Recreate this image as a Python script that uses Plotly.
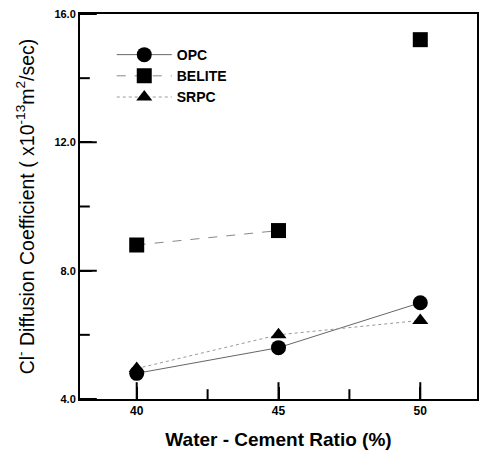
import plotly.graph_objects as go

wc_ratio = [40, 45, 50]
opc = [4.8, 5.6, 7.0]
belite = [8.8, 9.25, 15.2]
srpc = [4.95, 6.0, 6.45]
x_ticks = [40, 45, 50]
x_minor = [42.5, 47.5]
y_ticks = [4, 8, 12, 16]
y_minor = [6, 10, 14]
X_RANGE = [38, 52]
Y_RANGE = [4, 16]

FONT = "Liberation Sans, Arial"

fig = go.Figure()
fig.add_trace(go.Scatter(x=wc_ratio, y=opc, name="<b>OPC</b>", mode="lines+markers",
                         line=dict(color="#666", width=1, dash="solid"),
                         marker=dict(symbol="circle", size=15, color="black")))
fig.add_trace(go.Scatter(x=wc_ratio[:2], y=belite[:2], mode="lines", showlegend=False,
                         line=dict(color="#888", width=1, dash="dash"), hoverinfo="skip"))
fig.add_trace(go.Scatter(x=wc_ratio, y=belite, name="<b>BELITE</b>", mode="markers", showlegend=False,
                         marker=dict(symbol="square", size=15, color="black")))
fig.add_trace(go.Scatter(x=[None], y=[None], name="<b>BELITE</b>", mode="lines+markers",
                         line=dict(color="#888", width=1, dash="dash"),
                         marker=dict(symbol="square", size=15, color="black")))
fig.add_trace(go.Scatter(x=wc_ratio, y=srpc, name="<b>SRPC</b>", mode="lines+markers",
                         line=dict(color="#999", width=1, dash="dot"),
                         marker=dict(symbol="triangle-up", size=14, color="black")))

# tick marks drawn as clipped line markers on the axes (only the inner half shows)
def tick_trace(xs, ys, symbol, size):
    return go.Scatter(x=xs, y=ys, mode="markers", showlegend=False, hoverinfo="skip",
                      cliponaxis=True,
                      marker=dict(symbol=symbol, size=size, color="black",
                                  line=dict(width=2, color="black")))

fig.add_trace(tick_trace(x_ticks, [Y_RANGE[0]] * len(x_ticks), "line-ns", 24))
fig.add_trace(tick_trace(x_minor, [Y_RANGE[0]] * len(x_minor), "line-ns", 14))
fig.add_trace(tick_trace([X_RANGE[0]] * len(y_ticks), y_ticks, "line-ew", 24))
fig.add_trace(tick_trace([X_RANGE[0]] * len(y_minor), y_minor, "line-ew", 14))

fig.update_layout(
    width=486, height=454,
    margin=dict(l=80, r=7, t=14, b=51),
    plot_bgcolor="white", paper_bgcolor="white",
    font=dict(family=FONT, color="black"),
    showlegend=True,
    legend=dict(x=0.08, y=0.935, xanchor="left", yanchor="top",
                bgcolor="rgba(0,0,0,0)", font=dict(size=14, family=FONT),
                itemwidth=55, tracegroupgap=9),
    xaxis=dict(range=X_RANGE, tickvals=x_ticks, ticktext=[f"<b>{v}</b>" for v in x_ticks],
               ticks="inside", ticklen=12, tickwidth=2, tickcolor="black",
               showline=True, linecolor="black", linewidth=2, mirror=True,
               gridcolor="rgba(0,0,0,0)", zerolinecolor="rgba(0,0,0,0)",
               tickfont=dict(size=12),
               title=dict(text="<b>Water - Cement Ratio (%)</b>", font=dict(size=19))),
    yaxis=dict(range=Y_RANGE, tickvals=y_ticks, ticktext=[f"<b>{v:.1f}</b>" for v in y_ticks],
               ticks="inside", ticklen=12, tickwidth=2, tickcolor="black",
               showline=True, linecolor="black", linewidth=2, mirror=True,
               gridcolor="rgba(0,0,0,0)", zerolinecolor="rgba(0,0,0,0)",
               tickfont=dict(size=11),
               title=dict(text="Cl<sup>-</sup> Diffusion Coefficient ( x10<sup>-13</sup>m<sup>2</sup>/sec)",
                          font=dict(size=19.5))),
)

fig.write_html("out.html")
